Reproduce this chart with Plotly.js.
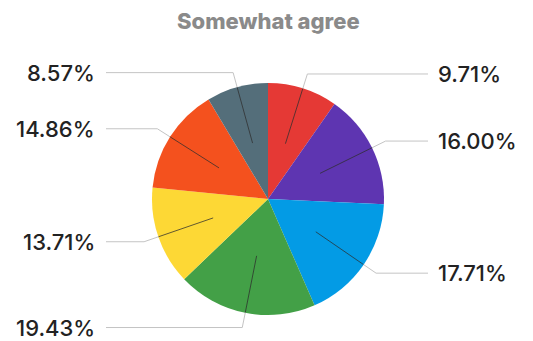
<!DOCTYPE html>
<html>
<head>
<meta charset="utf-8">
<script src="https://cdn.plot.ly/plotly-3.0.1.min.js"></script>
<style>html,body{margin:0;padding:0;background:#fff}#chart{width:533px;height:341px}</style>
</head>
<body>
<div id="chart"></div>
<script>
// Data (clockwise from 12 o'clock)
const categories = ["Slice 1", "Slice 2", "Slice 3", "Slice 4", "Slice 5", "Slice 6", "Slice 7"];
const counts = [17, 28, 31, 34, 24, 26, 15];
const colors = ["#e53935", "#5e35b1", "#039be5", "#43a047", "#fdd835", "#f4511e", "#546e7a"];
const chartTitle = "Somewhat agree";

const W = 533, H = 341;
const cx = 268, cy = 199, R = 116;
const total = counts.reduce((a, b) => a + b, 0);
const pct = counts.map(v => (v / total * 100).toFixed(2) + "%");

const traces = [{
  type: "pie",
  labels: categories,
  values: counts,
  sort: false,
  direction: "clockwise",
  rotation: 0,
  marker: {colors: colors, line: {width: 0}},
  textinfo: "none",
  hoverinfo: "none",
  showlegend: false,
  domain: {x: [(cx - R) / W, (cx + R) / W], y: [(H - cy - R) / H, (H - cy + R) / H]}
}];

const annotations = [];
const shapes = [];
let cum = 0;
counts.forEach((v, i) => {
  const mid = (cum + v / 2) / total * 2 * Math.PI;
  cum += v;
  const s = Math.sin(mid), c = Math.cos(mid);
  const p0 = [cx + 0.5 * R * s, cy - 0.5 * R * c];
  const p1 = [cx + R * s, cy - R * c];
  const p2 = [cx + 1.13 * R * s, cy - 1.13 * R * c];
  const right = s >= 0;
  const p3 = [right ? 428 : 106, p2[1]];
  shapes.push({
    type: "path", xref: "x", yref: "y", layer: "above",
    path: `M${p0[0]},${p0[1]} L${p1[0]},${p1[1]}`,
    line: {color: "rgba(45,45,45,0.75)", width: 1}
  });
  shapes.push({
    type: "path", xref: "x", yref: "y", layer: "above",
    path: `M${p1[0]},${p1[1]} L${p2[0]},${p2[1]} L${p3[0]},${p3[1]}`,
    line: {color: "#c4c4c4", width: 1}
  });
  annotations.push({
    xref: "x", yref: "y",
    x: right ? 436 : 97, y: p2[1],
    xanchor: right ? "left" : "right", yanchor: "middle",
    text: pct[i], showarrow: false,
    font: {family: "Inter, Roboto, sans-serif", size: 22, weight: 500, color: "#222222"}
  });
});

annotations.push({
  xref: "paper", yref: "paper", x: 268 / W, y: 1 - 21 / H,
  xanchor: "center", yanchor: "middle", showarrow: false,
  text: chartTitle,
  font: {family: "Inter, Roboto, sans-serif", size: 22, weight: 800, color: "#8a8a8a"}
});

const layout = {
  width: W, height: H,
  margin: {l: 0, r: 0, t: 0, b: 0},
  paper_bgcolor: "#ffffff", plot_bgcolor: "rgba(0,0,0,0)",
  xaxis: {range: [0, W], visible: false, fixedrange: true},
  yaxis: {range: [H, 0], visible: false, fixedrange: true},
  annotations: annotations,
  shapes: shapes,
  showlegend: false
};

Plotly.newPlot("chart", traces, layout, {displayModeBar: false, staticPlot: true});
</script>
</body>
</html>
